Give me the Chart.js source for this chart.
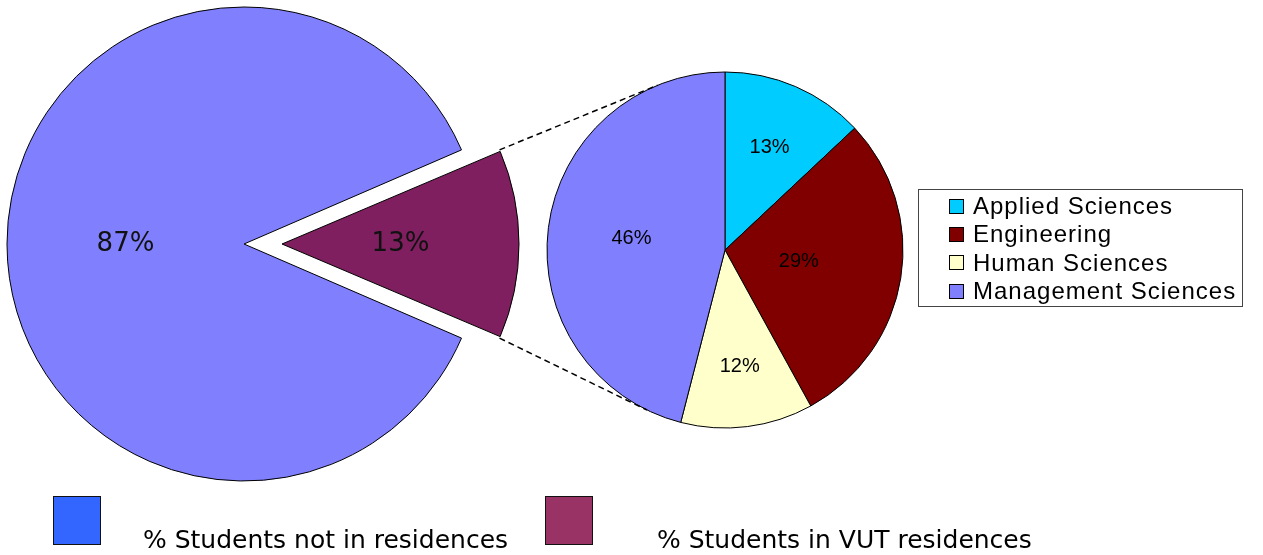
<!DOCTYPE html>
<html>
<head>
<meta charset="utf-8">
<script src="https://cdn.jsdelivr.net/npm/chart.js@4.4.0/dist/chart.umd.min.js"></script>
<style>
  html,body{margin:0;padding:0;background:#fff;}
  #page{position:relative;width:1263px;height:555px;overflow:hidden;}
  canvas{position:absolute;}
  #mainPie{left:0;top:0;}
  #facPie{left:540px;top:64px;}
  #links{left:0;top:0;pointer-events:none;}
  #facLegend{position:absolute;left:918px;top:189px;width:325px;height:118px;box-sizing:border-box;
    border:1px solid #444;padding:2px 0 0 30px;font:24px "Liberation Sans",Arial,sans-serif;letter-spacing:1px;color:#000;}
  #facLegend .row{height:28.3px;display:flex;align-items:center;white-space:nowrap;}
  #facLegend .sw{width:13px;height:13px;border:1px solid #000;margin-right:9px;flex:none;}
  .mbox{position:absolute;top:496px;width:46px;height:47px;border:1px solid #111;}
  .mtxt{position:absolute;top:527px;font:25px "DejaVu Sans",Verdana,sans-serif;line-height:25px;color:#000;white-space:nowrap;}
</style>
</head>
<body>
<div id="page">
  <canvas id="mainPie" width="560" height="488"></canvas>
  <canvas id="facPie" width="370" height="372"></canvas>
  <canvas id="links" width="1263" height="555"></canvas>
  <div id="facLegend"></div>
</div>
<script>
// residence split (big pie) and faculty split of residence students (small pie)
const mainLabels = ['% Students not in residences', '% Students in VUT residences'];
const mainValues = [87, 13];
const facultyLabels = ['Applied Sciences', 'Engineering', 'Human Sciences', 'Management Sciences'];
const facultyValues = [13, 29, 12, 46];

const mainColors = ['#8080FF', '#7F1F5F'];
const mainKeyColors = ['#3366FF', '#993366'];   // the bottom key uses other shades, as in the original
const facultyColors = ['#00CCFF', '#800000', '#FFFFCC', '#8080FF'];

const mainTotal = mainValues.reduce((s,v)=>s+v,0);

// draws "NN%" inside each slice
const sliceLabels = {
  id:'sliceLabels',
  afterDatasetsDraw(chart, args, opts){
    const ctx = chart.ctx;
    const meta = chart.getDatasetMeta(0);
    const vals = chart.data.datasets[0].data;
    ctx.save();
    ctx.font = opts.font; ctx.fillStyle = opts.color;
    ctx.textAlign = 'center'; ctx.textBaseline = 'middle';
    meta.data.forEach((arc,i)=>{
      const g = sliceGeom(arc);
      const frac = Array.isArray(opts.radius) ? opts.radius[i] : opts.radius;
      ctx.fillText(vals[i] + '%', g.cx + Math.cos(g.mid)*g.r*frac, g.cy + Math.sin(g.mid)*g.r*frac);
    });
    ctx.restore();
  }
};

// chart.js grows an offset slice a bit; keep it at the pie's radius
const keepRadius = {
  id:'keepRadius',
  afterDatasetUpdate(chart, args){
    args.meta.data.forEach(arc=>{
      const off = (arc.options.offset||0)/4;
      const fix = 1 - Math.sin(Math.min(Math.PI, arc.endAngle - arc.startAngle));
      arc.fullR = arc.outerRadius;
      arc.outerRadius -= off*fix;
    });
  }
};

function sliceGeom(arc){
  const mid = (arc.startAngle + arc.endAngle)/2;
  const off = (arc.options.offset||0)/4;
  return { mid, cx: arc.x + Math.cos(mid)*off, cy: arc.y + Math.sin(mid)*off, r: arc.fullR || arc.outerRadius };
}

const mainChart = new Chart(document.getElementById('mainPie'), {
  type:'pie',
  data:{ labels: mainLabels, datasets:[{ data: mainValues, backgroundColor: mainColors,
    borderColor:'#000', borderWidth:1, offset:[0,152] }] },
  options:{
    responsive:false, animation:false, events:[],
    rotation: 90 + mainValues[1]/mainTotal*180,
    radius: 237,
    layout:{ padding:{ right:72 } },
    plugins:{ legend:{display:false}, tooltip:{enabled:false},
      sliceLabels:{ radius:0.5, font:'26px "DejaVu Sans", Tahoma, sans-serif', color:'#111' } }
  },
  plugins:[keepRadius, sliceLabels]
});

const facChart = new Chart(document.getElementById('facPie'), {
  type:'pie',
  data:{ labels: facultyLabels, datasets:[{ data: facultyValues, backgroundColor: facultyColors,
    borderColor:'#000', borderWidth:1 }] },
  options:{
    responsive:false, animation:false, events:[],
    radius: 178,
    plugins:{ legend:{display:false}, tooltip:{enabled:false},
      sliceLabels:{ radius:[0.63,0.42,0.66,0.53], font:'20px "Liberation Sans", Arial, sans-serif', color:'#000' } }
  },
  plugins:[keepRadius, sliceLabels]
});

// dashed connectors from the exploded slice to the tangents of the small pie
(function drawLinks(){
  const c1 = document.getElementById('mainPie'), c2 = document.getElementById('facPie');
  const ctx = document.getElementById('links').getContext('2d');
  const arc = mainChart.getDatasetMeta(0).data[1];
  const g = sliceGeom(arc);
  const corner = a => ({ x: c1.offsetLeft + g.cx + Math.cos(a)*g.r, y: c1.offsetTop + g.cy + Math.sin(a)*g.r });
  const pts = [corner(arc.startAngle), corner(arc.endAngle)].sort((p,q)=>p.y-q.y);
  const sArc = facChart.getDatasetMeta(0).data[0];
  const C = { x: c2.offsetLeft + sArc.x, y: c2.offsetTop + sArc.y }, r = sArc.outerRadius;
  ctx.strokeStyle = '#000'; ctx.lineWidth = 1.5; ctx.setLineDash([6,4]);
  pts.forEach((P,k)=>{
    const d = Math.hypot(P.x-C.x, P.y-C.y);
    const phi = Math.atan2(P.y-C.y, P.x-C.x), a = Math.acos(r/d);
    const cands = [phi+a, phi-a].map(t=>({ x: C.x+Math.cos(t)*r, y: C.y+Math.sin(t)*r })).sort((p,q)=>p.y-q.y);
    const T = k===0 ? cands[0] : cands[1];
    ctx.beginPath(); ctx.moveTo(P.x, P.y); ctx.lineTo(T.x, T.y); ctx.stroke();
  });
})();

// legends
const leg = document.getElementById('facLegend');
facultyLabels.forEach((l,i)=>{
  leg.insertAdjacentHTML('beforeend', `<div class="row"><span class="sw" style="background:${facultyColors[i]}"></span>${l}</div>`);
});
const page = document.getElementById('page');
const keyX = [53, 545], txtX = [143, 657];
mainLabels.forEach((l,i)=>{
  page.insertAdjacentHTML('beforeend', `<div class="mbox" style="left:${keyX[i]}px;background:${mainKeyColors[i]}"></div><div class="mtxt" style="left:${txtX[i]}px">${l}</div>`);
});
</script>
</body>
</html>
